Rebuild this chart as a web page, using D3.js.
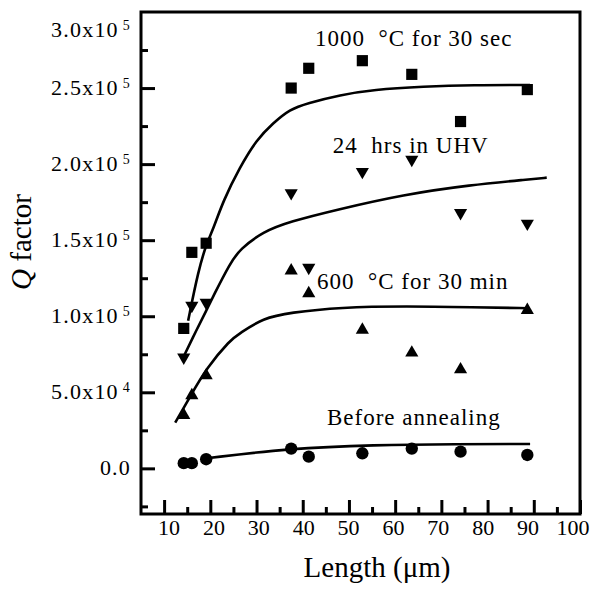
<!DOCTYPE html>
<html><head><meta charset="utf-8">
<script src="https://cdn.jsdelivr.net/npm/d3@7"></script>
<style>html,body{margin:0;padding:0;background:#fff}svg{display:block}</style>
</head><body><div id="chart"></div>
<script>
// ---- data ----
const lengths = [14.25, 16.0, 19.1, 37.5, 41.3, 52.9, 63.6, 74.15, 88.6];
const q1000 = [0.92e5, 1.42e5, 1.48e5, 2.50e5, 2.63e5, 2.68e5, 2.59e5, 2.28e5, 2.49e5];
const qUHV = [0.73e5, 1.07e5, 1.09e5, 1.81e5, 1.32e5, 1.95e5, 2.03e5, 1.68e5, 1.61e5];
const q600 = [0.35e5, 0.48e5, 0.61e5, 1.30e5, 1.15e5, 0.91e5, 0.76e5, 0.65e5, 1.04e5];
const qBefore = [0.034e5, 0.034e5, 0.06e5, 0.13e5, 0.077e5, 0.099e5, 0.13e5, 0.11e5, 0.088e5];

const fit1000X = [15.2, 17.4, 19.2, 20.6, 22.8, 26.4, 30.0, 33.6, 37.2, 40.9, 48.1, 55.3, 66.1, 76.9, 89.2];
const fit1000Y = [0.97e5, 1.30e5, 1.48e5, 1.57e5, 1.76e5, 1.98e5, 2.16e5, 2.27e5, 2.36e5, 2.40e5, 2.455e5, 2.49e5, 2.51e5, 2.52e5, 2.52e5];
const fitUHVX = [14.0, 17.0, 19.2, 20.6, 24.3, 26.4, 31.4, 37.2, 47.3, 61.8, 76.2, 89.2, 92.8];
const fitUHVY = [0.72e5, 0.91e5, 1.04e5, 1.13e5, 1.35e5, 1.44e5, 1.556e5, 1.622e5, 1.70e5, 1.80e5, 1.863e5, 1.90e5, 1.911e5];
const fit600X = [12.4, 15.6, 19.2, 24.3, 26.4, 31.4, 37.2, 48.1, 62.5, 76.9, 88.8];
const fit600Y = [0.30e5, 0.47e5, 0.66e5, 0.844e5, 0.888e5, 0.987e5, 1.024e5, 1.059e5, 1.066e5, 1.059e5, 1.053e5];
const fitBeforeX = [19.2, 37.2, 55.3, 73.3, 89.2];
const fitBeforeY = [0.066e5, 0.132e5, 0.154e5, 0.160e5, 0.160e5];

const seriesNames = ["1000  \u00B0C for 30 sec", "24  hrs in UHV", "600  \u00B0C for 30 min", "Before annealing"];
const xTickValues = [10, 20, 30, 40, 50, 60, 70, 80, 90, 100];
const xMinorTicks = [15, 25, 35, 45, 55, 65, 75, 85, 95];
const yTickValues = [0, 5e4, 1e5, 1.5e5, 2e5, 2.5e5, 3e5];
const yTickMant = ["0.0", "5.0x10", "1.0x10", "1.5x10", "2.0x10", "2.5x10", "3.0x10"];
const yTickExp = ["", "4", "5", "5", "5", "5", "5"];
const yMinorTicks = [-2.5e4, 2.5e4, 7.5e4, 1.25e5, 1.75e5, 2.25e5, 2.75e5];

// ---- layout ----
const W = 593, H = 589;
const L = 141, R = 580, T = 12, B = 514;
const FONT = "'Liberation Serif', 'Times New Roman', 'DejaVu Serif', serif";
const svg = d3.select("#chart").append("svg").attr("width", W).attr("height", H)
  .attr("font-family", FONT);
const x = d3.scaleLinear().domain([5, 100]).range([L, R]);
const y = d3.scaleLinear().domain([-3e4, 3e5]).range([B, T]);

// axes: ticks pointing inward
const xMajor = d3.axisBottom(x).tickValues(xTickValues).tickSize(-14).tickFormat("");
const xMinor = d3.axisBottom(x).tickValues(xMinorTicks).tickSize(-7).tickFormat("");
const yMajor = d3.axisLeft(y).tickValues(yTickValues.filter(v => v < 3e5)).tickSize(-14).tickFormat("");
const yMinor = d3.axisLeft(y).tickValues(yMinorTicks).tickSize(-7).tickFormat("");
[[xMajor, `translate(0,${B})`], [xMinor, `translate(0,${B})`], [yMajor, `translate(${L},0)`], [yMinor, `translate(${L},0)`]].forEach(([ax, tr]) => {
  const g = svg.append("g").attr("transform", tr).call(ax);
  g.select(".domain").remove();
  g.selectAll("line").attr("stroke", "#000").attr("stroke-width", 3);
});

// frame
svg.append("rect").attr("x", L).attr("y", T).attr("width", R - L).attr("height", B - T)
  .attr("fill", "none").attr("stroke", "#000").attr("stroke-width", 3);

// x tick labels (the original's labels sit slightly inside their ticks toward the ends)
svg.append("g").selectAll("text").data(xTickValues).join("text")
  .attr("x", d => x(d) + 5 - (d - 10) * 12 / 90).attr("y", B + 21).attr("text-anchor", "middle")
  .attr("font-family", FONT).attr("font-size", 22).attr("fill", "#000").text(d => d);

// y tick labels
const yl = svg.append("g").selectAll("text").data(yTickValues).join("text")
  .attr("x", 131).attr("y", (d, i) => y(d) + 7 + (d === 3e5 ? 18 : 0))
  .attr("text-anchor", "end").attr("font-family", FONT).attr("font-size", 22).attr("letter-spacing", 1.2);
yl.append("tspan").text((d, i) => yTickMant[i]);
yl.append("tspan").attr("font-size", 14).attr("dx", 4).attr("dy", -7).text((d, i) => yTickExp[i]);

// axis titles
svg.append("text").attr("x", 377).attr("y", 577).attr("text-anchor", "middle")
  .attr("font-family", FONT).attr("font-size", 29).text("Length (\u03BCm)");
const yt = svg.append("text").attr("transform", "translate(31,242) rotate(-90)")
  .attr("text-anchor", "middle").attr("font-family", FONT).attr("font-size", 29);
yt.append("tspan").attr("font-style", "italic").text("Q");
yt.append("tspan").text(" factor");

// fitted curves
const line = d3.line().x(d => x(d[0])).y(d => y(d[1])).curve(d3.curveBasis);
[[fit1000X, fit1000Y], [fitUHVX, fitUHVY], [fit600X, fit600Y], [fitBeforeX, fitBeforeY]].forEach(([xs, ys]) => {
  svg.append("path").datum(xs.map((v, i) => [v, ys[i]])).attr("d", line)
    .attr("fill", "none").attr("stroke", "#000").attr("stroke-width", 2.6);
});

// markers
const sym = [
  d3.symbol().type(d3.symbolSquare).size(125),
  d3.symbol().type(d3.symbolTriangle).size(75),
  d3.symbol().type(d3.symbolTriangle).size(75),
  d3.symbol().type(d3.symbolCircle).size(120)
];
[q1000, qUHV, q600, qBefore].forEach((vals, s) => {
  svg.append("g").selectAll("path").data(vals).join("path")
    .attr("d", sym[s])
    .attr("transform", (d, i) => `translate(${x(lengths[i])},${y(d)})` + (s === 1 ? " rotate(180)" : ""))
    .attr("fill", "#000");
});

// series annotations
const annX = [42.65, 46.5, 43.1, 45.25];
const annY = [2.777e5, 2.074e5, 1.18e5, 0.286e5];
svg.append("g").selectAll("text").data(seriesNames).join("text")
  .attr("x", (d, i) => x(annX[i])).attr("y", (d, i) => y(annY[i]))
  .attr("font-family", FONT).attr("font-size", 23).attr("letter-spacing", 1)
  .attr("xml:space", "preserve").style("white-space", "pre")
  .text(d => d);
</script></body></html>
